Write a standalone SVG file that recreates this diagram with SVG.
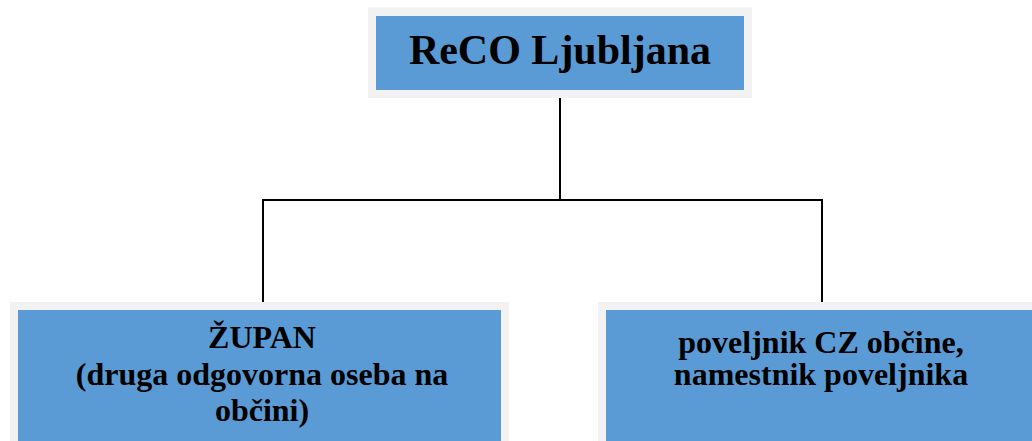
<svg xmlns="http://www.w3.org/2000/svg" width="1032" height="441" viewBox="0 0 1032 441">
<style>
.frame{fill:#F2F2F2;}
.box{fill:#5B9BD5;}
.t{font-family:"Liberation Serif","Times New Roman",serif;font-weight:bold;fill:#000;text-anchor:middle;}
.conn{stroke:#000;stroke-width:2;fill:none;}
</style>
<rect width="1032" height="441" fill="#fff"/>
<g id="connectors">
<path class="conn" d="M560 98 V200 M263 200 H822 M263 199 V302 M822 199 V302"/>
</g>
<g id="node-reco">
<rect class="frame" x="368" y="7.5" width="384" height="90.5"/>
<rect class="box" x="376" y="16" width="368" height="74"/>
<text class="t" x="560" y="64" font-size="42">ReCO Ljubljana</text>
</g>
<g id="node-zupan">
<rect class="frame" x="10" y="302" width="499" height="145"/>
<rect class="box" x="18" y="310" width="483" height="140"/>
<text class="t" font-size="32"><tspan x="262" y="348">ŽUPAN</tspan><tspan x="262" y="385">(druga odgovorna oseba na</tspan><tspan x="262" y="421">občini)</tspan></text>
</g>
<g id="node-poveljnik">
<rect class="frame" x="598" y="302" width="440" height="145"/>
<rect class="box" x="606" y="310" width="430" height="140"/>
<text class="t" font-size="32"><tspan x="821" y="353">poveljnik CZ občine,</tspan><tspan x="821" y="385">namestnik poveljnika</tspan></text>
</g>
</svg>
